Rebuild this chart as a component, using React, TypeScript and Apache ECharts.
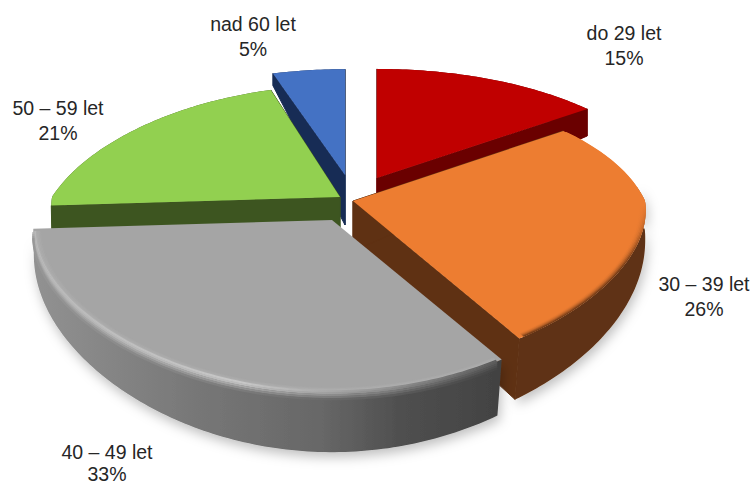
import React, { useEffect, useRef } from "react";
import * as echarts from "echarts";

const categories = ["do 29 let", "30 – 39 let", "40 – 49 let", "50 – 59 let", "nad 60 let"];
const shares = [15, 26, 33, 21, 5];

const topColors = ["#c00000", "#ed7d31", "#a5a5a5", "#92d050", "#4472c4"];
const wallColors = ["#6a0000", "#5f3113", "#666666", "#3d5520", "#172c55"];
// Paint order: back slices first
const paintOrder = [4, 0, 3, 1, 2];
// Layout of each exploded slice on screen
const apexes = [[377, 178], [353, 201], [332, 220], [340, 197], [345, 175]];
const radiiX = [292, 292, 298, 288, 280];
const radiiY = [132, 134, 136, 135, 128];
const rearShrink = [0.21, 0.21, 0.21, 0.3, 0.21];
const rearDepths = [27, 29, 24, 24, 12];
const labelCentres = [[624, 45], [704, 296], [107, 464], [58, 120], [253, 36]];
const rimmed = [false, true, true, false, false];
const showsRadialFaces = [true, true, false, true, true];

const APEX_DEPTH = 50;
const LINE_GAP = 25;
const LOWEST_LINE = 474;

function hexToRgb(h: string) {
  return [1, 3, 5].map((i) => parseInt(h.slice(i, i + 2), 16));
}
function mix(a: string, b: string, t: number) {
  const x = hexToRgb(a), y = hexToRgb(b);
  return `rgb(${x.map((c, i) => Math.round(c + (y[i] - c) * t)).join(",")})`;
}

function project(i: number, deg: number, r = 1) {
  const th = (deg * Math.PI) / 180;
  const v = -Math.cos(th);
  const sy = 1 / (1 - 0.21 * v);
  const sx = 1 / (1 - (v < 0 ? rearShrink[i] : 0.07) * v);
  return {
    x: apexes[i][0] + radiiX[i] * r * Math.sin(th) * sx,
    y: apexes[i][1] + radiiY[i] * r * v * sy,
    v,
  };
}
function depthOf(i: number, v: number) {
  return rearDepths[i] + (v > 0 ? 36 * Math.pow(v, 0.7) : 0);
}
function lowered(i: number, deg: number) {
  const p = project(i, deg);
  const dx = p.v > 0 ? -0.03 * (p.x - apexes[i][0]) * p.v : 0;
  return [p.x + dx, p.y + depthOf(i, p.v)];
}
function sweep(a0: number, a1: number) {
  const out: number[] = [];
  const n = Math.ceil(a1 - a0);
  for (let k = 0; k <= n; k++) out.push(a0 + ((a1 - a0) * k) / n);
  return out;
}

const total = shares.reduce((a, b) => a + b, 0);
const starts: number[] = [];
shares.reduce((acc, s, i) => {
  starts[i] = (acc / total) * 360;
  return acc + s;
}, 0);

const greyWall = () =>
  new echarts.graphic.LinearGradient(
    32, 0, 500, 0,
    [
      { offset: 0, color: "#929292" },
      { offset: 0.35, color: "#777777" },
      { offset: 0.62, color: "#676767" },
      { offset: 0.78, color: "#505050" },
      { offset: 1, color: "#424242" },
    ],
    true
  );
const greyShine = () =>
  new echarts.graphic.LinearGradient(
    32, 0, 500, 0,
    [
      { offset: 0, color: "#b8b8b8" },
      { offset: 0.45, color: "#c8c8c8" },
      { offset: 0.75, color: "#959595" },
      { offset: 1, color: "#5a5a5a" },
    ],
    true
  );

function textLine(text: string, x: number, y: number) {
  return {
    type: "text",
    style: {
      text,
      x,
      y,
      align: "center",
      verticalAlign: "middle",
      font: '19.5px "Liberation Sans"',
      lineHeight: 20,
      fill: "#262626",
    },
    z2: 100,
  };
}

function renderSlice(params: any) {
  const i = paintOrder[params.dataIndex];
  const a0 = starts[i];
  const a1 = a0 + (shares[i] / total) * 360;
  const angles = sweep(a0, a1);
  const [ax, ay] = apexes[i];
  const arc = angles.map((d) => project(i, d));
  const top = arc.map((p) => [p.x, p.y]);
  const bottom = angles.map((d) => lowered(i, d));
  const wallFill: any = i === 2 ? greyWall() : wallColors[i];
  const children: any[] = [];

  // outer wall: only the part that faces the viewer throws the soft shadow
  const front = angles.filter((d) => !rimmed[i] || project(i, d).v > -0.12);
  const frontTop = front.map((d) => {
    const p = project(i, d);
    return [p.x, p.y];
  });
  const frontBottom = front.map((d) => lowered(i, d));
  children.push({
    type: "polygon",
    shape: { points: [...frontTop, ...frontBottom.slice().reverse()] },
    style: rimmed[i]
      ? { fill: wallFill, shadowBlur: 12, shadowColor: "rgba(0,0,0,0.25)", shadowOffsetY: 5, shadowOffsetX: 2 }
      : { fill: wallFill },
  });
  // radial faces
  if (showsRadialFaces[i]) {
    [arc.length - 1, 0].forEach((idx) => {
      children.push({
        type: "polygon",
        shape: { points: [[ax, ay], top[idx], bottom[idx], [ax, ay + APEX_DEPTH]] },
        style: { fill: wallColors[i], stroke: wallColors[i], lineWidth: 1 },
      });
    });
  }
  // top face
  children.push({
    type: "polygon",
    shape: { points: [[ax, ay], ...top] },
    style: { fill: topColors[i] },
  });
  // soft bevel along the rim
  if (rimmed[i]) {
    const steps = 6;
    for (let s = 0; s < steps; s++) {
      const t = (s + 0.5) / steps;
      const inner = angles.slice(1, -1).map((d) => {
        const p = project(i, d, 1 - (1 - t) * 0.028);
        return [p.x, p.y];
      });
      const stroke: any =
        i === 2
          ? t > 0.6
            ? greyShine()
            : mix("#a5a5a5", "#b4b4b4", t)
          : new echarts.graphic.LinearGradient(
              0, 205, 0, 265,
              [
                { offset: 0, color: topColors[i] },
                { offset: 1, color: mix(topColors[i], wallColors[i], t * t) },
              ],
              true
            );
      children.push({
        type: "polyline",
        shape: { points: inner },
        style: { fill: "none", stroke, lineWidth: 1.4 },
      });
    }
    if (i === 2) {
      for (let s = 0; s < 4; s++) {
        const t = (s + 0.5) / 4;
        const pts = angles.slice(1, -1).map((d) => {
          const p = project(i, d);
          return [p.x, p.y + t * 8];
        });
        children.push({
          type: "polyline",
          shape: { points: pts },
          style: {
            fill: "none",
            stroke: new echarts.graphic.LinearGradient(
              32, 0, 500, 0,
              [
                { offset: 0, color: mix("#b8b8b8", "#929292", t) },
                { offset: 0.45, color: mix("#c8c8c8", "#707070", t) },
                { offset: 0.75, color: mix("#959595", "#565656", t) },
                { offset: 1, color: mix("#5a5a5a", "#424242", t) },
              ],
              true
            ),
            lineWidth: 2.2,
          },
        });
      }
    }
  }
  // label
  const [lx, ly] = labelCentres[i];
  children.push(textLine(categories[i], lx, ly - LINE_GAP / 2));
  children.push(textLine(`${shares[i]}%`, lx, Math.min(ly + LINE_GAP / 2, LOWEST_LINE)));
  return { type: "group", children };
}

export default function App() {
  const ref = useRef<HTMLDivElement>(null);
  useEffect(() => {
    document.body.style.margin = "0";
    const chart = echarts.init(ref.current!, undefined, { renderer: "svg" });
    chart.setOption({
      animation: false,
      backgroundColor: "#ffffff",
      series: [
        {
          type: "custom",
          coordinateSystem: "none",
          renderItem: renderSlice,
          data: paintOrder.map((i) => [shares[i]]),
          silent: true,
        },
      ],
    });
    return () => chart.dispose();
  }, []);
  return <div ref={ref} style={{ width: 752, height: 484 }} />;
}
